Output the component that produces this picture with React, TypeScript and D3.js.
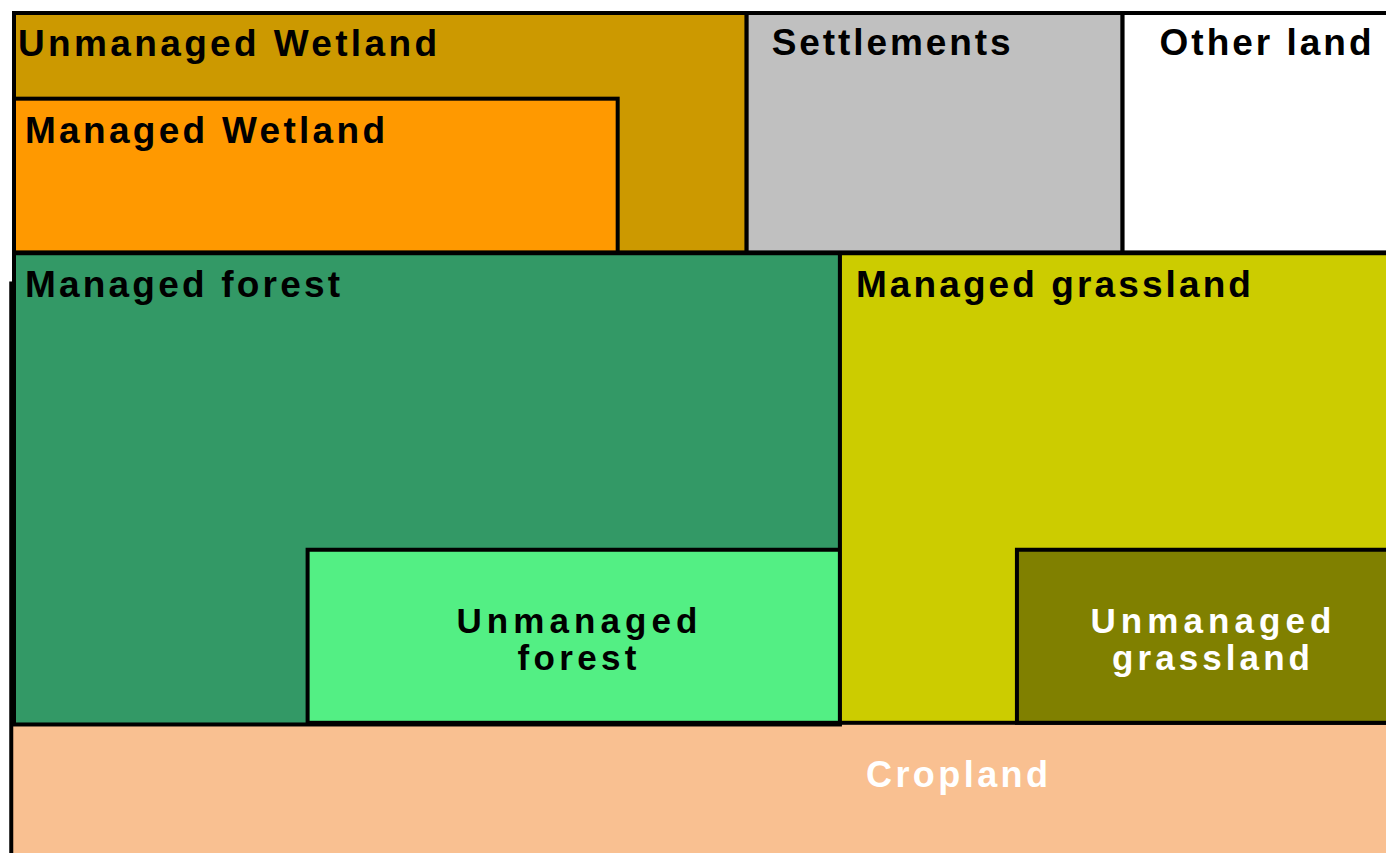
import * as d3 from 'd3';

// land categories, extents in % of the land area (x: left→right, y: top→bottom)
const categories = [
  'Unmanaged Wetland',
  'Managed Wetland',
  'Settlements',
  'Other land',
  'Cropland',
  'Managed forest',
  'Unmanaged forest',
  'Managed grassland',
  'Unmanaged grassland',
];
const xStart = [0, 0, 53.4, 80.8, -0.2, 0, 21.4, 60.2, 73.1];
const xEnd = [53.4, 44.0, 80.8, 102, 102, 60.2, 60.2, 102, 102];
const yStart = [0, 10.2, 0, 0, 32.2, 28.6, 63.9, 28.6, 63.9];
const yEnd = [28.5, 28.5, 28.5, 28.5, 104, 84.7, 84.5, 84.5, 84.5];

const colors = [
  '#cc9900',
  '#ff9900',
  '#c0c0c0',
  '#ffffff',
  '#f9c091',
  '#339966',
  '#53ef84',
  '#cccc00',
  '#808000',
];

const width = 1386;
const height = 853;

const labelLines = [
  ['Unmanaged Wetland'],
  ['Managed Wetland'],
  ['Settlements'],
  ['Other land'],
  ['Cropland'],
  ['Managed forest'],
  ['Unmanaged', 'forest'],
  ['Managed grassland'],
  ['Unmanaged', 'grassland'],
];

type Label = { dx: number; dy: number; lengths: number[]; center?: number; white?: boolean; size: number };
// label placement: offset from box corner (or centre x), drawn width per line
const labelLayout: Label[] = [
  { dx: 4, dy: 43, lengths: [419], size: 37 },
  { dx: 11, dy: 44, lengths: [360], size: 37 },
  { dx: 25, dy: 42, lengths: [239], size: 37 },
  { dx: 37, dy: 42, lengths: [212], size: 37 },
  { dx: 0, dy: 64, lengths: [182], size: 36, center: 957, white: true },
  { dx: 11, dy: 44, lengths: [315], size: 37 },
  { dx: 0, dy: 83, lengths: [241, 119], size: 35, center: 577 },
  { dx: 16, dy: 44, lengths: [395], size: 37 },
  { dx: 0, dy: 83, lengths: [241, 198], size: 35, center: 1211, white: true },
];

export default function App() {
  const x = d3.scaleLinear().domain([0, 100]).range([14, 1386]);
  const y = d3.scaleLinear().domain([0, 100]).range([13, 853]);

  return (
    <svg
      width={width}
      height={height}
      style={{ position: 'absolute', left: 0, top: 0, background: '#fff' }}
      fontFamily="'Liberation Sans', Arial, sans-serif"
      fontWeight="bold"
    >
      {categories.map((c, i) => (
        <rect
          key={c}
          x={x(xStart[i])}
          y={y(yStart[i])}
          width={x(xEnd[i]) - x(xStart[i])}
          height={y(yEnd[i]) - y(yStart[i])}
          fill={colors[i]}
          stroke="#000"
          strokeWidth={4}
        />
      ))}
      {categories.map((c, i) => {
        const lay = labelLayout[i];
        const x0 = x(xStart[i]);
        const y0 = i === 4 ? y(84.5) : y(yStart[i]);
        return labelLines[i].map((line, j) => {
          const len = lay.lengths[j];
          const lx = lay.center != null ? lay.center - len / 2 : x0 + lay.dx;
          const ly = y0 + lay.dy + j * 37;
          return (
            <text
              key={c + j}
              x={lx}
              y={ly}
              fontSize={lay.size}
              fill={lay.white ? '#fff' : '#000'}
              textLength={len}
              lengthAdjust="spacing"
            >
              {line}
            </text>
          );
        });
      })}
    </svg>
  );
}
